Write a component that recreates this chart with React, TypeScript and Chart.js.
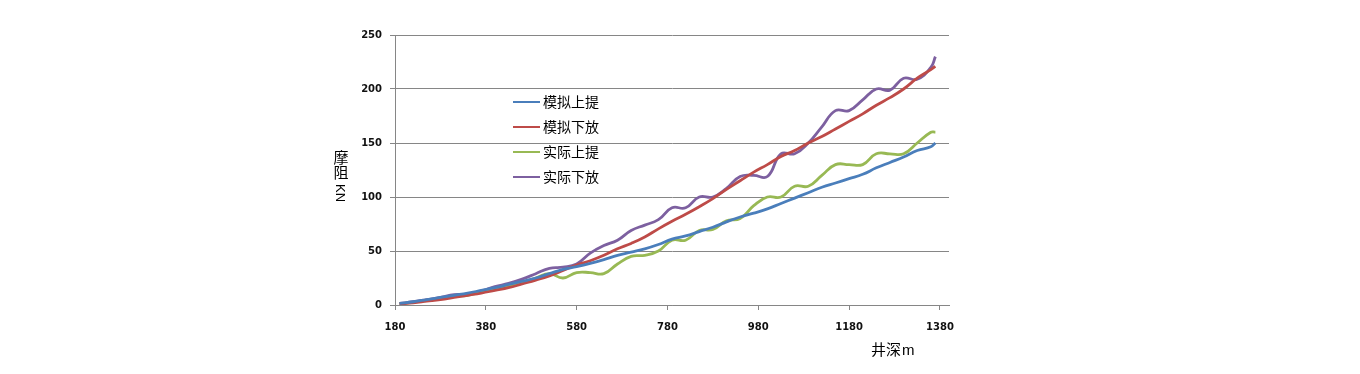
import React, { useEffect, useRef } from "react";
import { Chart, registerables } from "chart.js";

Chart.register(...registerables);

const depths = [190, 220, 250, 280, 310, 340, 370, 400, 430, 460, 490, 520, 550, 580, 610, 640, 670, 700, 730, 760, 790, 820, 850, 880, 910, 940, 970, 1000, 1030, 1060, 1090, 1120, 1150, 1180, 1210, 1240, 1270, 1300, 1330, 1360, 1370];

const simPullUp = [1.5, 3, 5, 7, 9, 11, 13.5, 16, 19, 22, 25, 29, 33, 35.5, 38.5, 42, 46, 49, 52, 56, 61, 64, 68, 72, 77, 81.5, 85, 89, 94, 99, 104, 109, 113, 117, 121, 127, 132, 137, 143, 146.5, 150];
const simRunIn = [1, 2, 3.5, 5, 7, 9, 11, 13.5, 16, 19.5, 23, 27, 32, 37, 41, 46, 52, 57, 63, 70.5, 77.5, 84, 91, 98.5, 107, 115, 123, 130, 137.5, 143, 150, 156, 163, 170, 177, 185, 192, 200, 210, 218, 221];
const actPullUp = [1, 2.5, 4, 6, 8, 9, 12, 15, 18, 21, 25, 29, 25, 30, 30, 29, 38, 45, 46, 50, 60, 60, 69, 70, 78, 80, 92, 100, 100, 110, 110, 120, 130, 130, 130, 140, 140, 140, 150, 160, 160];
const actRunIn = [1.5, 3, 5, 7, 9.5, 10, 13, 17, 20, 24, 29, 34, 35, 38, 48, 55, 60, 69, 74, 79, 90, 90, 100, 100, 108, 119, 120, 119, 140, 140, 150, 165, 180, 180, 190, 200, 199, 210, 209, 220, 230];

const seriesNames = ["模拟上提", "模拟下放", "实际上提", "实际下放"];
const seriesColors = ["#4A7EBB", "#BE4B48", "#98B954", "#7D60A0"];
const xTicks = [180, 380, 580, 780, 980, 1180, 1380];
const yTitleChars = ["摩", "阻"];
const yTitleUnit = "KN";
const xTitle = "井深";
const xTitleUnit = "m";

const CJK = '"Noto Sans CJK SC", "Noto Sans", sans-serif';
const LAT = '"Liberation Sans", Arial, sans-serif';
const TICK = '"DejaVu Sans", sans-serif';

const toPoints = (vals: number[]) => vals.map((v, i) => ({ x: depths[i], y: v }));

const decorPlugin = {
  id: "decor",
  afterDatasetsDraw(chart: any) {
    const ctx = chart.ctx;
    const area = chart.chartArea;
    ctx.save();
    // legend
    const lx = area.left + 118;
    const ly0 = 102;
    chart.data.datasets.forEach((ds: any, i: number) => {
      const y = ly0 + i * 25;
      ctx.strokeStyle = ds.borderColor;
      ctx.lineWidth = 2;
      ctx.beginPath();
      ctx.moveTo(lx, y);
      ctx.lineTo(lx + 27, y);
      ctx.stroke();
      ctx.fillStyle = "#000";
      ctx.font = `14px ${CJK}`;
      ctx.textAlign = "left";
      ctx.textBaseline = "middle";
      ctx.fillText(ds.label, lx + 30, y);
    });
    // y title
    ctx.fillStyle = "#000";
    ctx.font = `15px ${CJK}`;
    ctx.textAlign = "center";
    ctx.textBaseline = "middle";
    yTitleChars.forEach((c, i) => ctx.fillText(c, 341, 157 + i * 15));
    ctx.save();
    ctx.translate(340, 193);
    ctx.rotate(Math.PI / 2);
    ctx.font = `13px ${LAT}`;
    ctx.fillText(yTitleUnit, 0, 0);
    ctx.restore();
    // x title
    ctx.font = `15px ${CJK}`;
    ctx.textAlign = "left";
    ctx.fillText(xTitle, 871, 349);
    ctx.font = `15px ${LAT}`;
    ctx.fillText(xTitleUnit, 902, 351);
    ctx.restore();
  },
};

export default function App() {
  const ref = useRef<HTMLCanvasElement | null>(null);
  useEffect(() => {
    if (!ref.current) return;
    const allVals = [simPullUp, simRunIn, actPullUp, actRunIn];
    const chart = new Chart(ref.current, {
      type: "line",
      data: {
        datasets: allVals.map((vals, i) => ({
          label: seriesNames[i],
          data: toPoints(vals),
          borderColor: seriesColors[i],
          backgroundColor: seriesColors[i],
          borderWidth: 2.8,
          pointRadius: 0,
          tension: 0.45,
          fill: false,
        })),
      },
      options: {
        responsive: false,
        animation: false,
        events: [],
        layout: { padding: { left: 0, right: 411, top: 35, bottom: 0 } },
        plugins: { legend: { display: false }, tooltip: { enabled: false }, title: { display: false } },
        scales: {
          x: {
            type: "linear",
            min: 180,
            max: 1400,
            afterBuildTicks: (scale: any) => {
              scale.ticks = xTicks.map((v) => ({ value: v }));
            },
            afterFit: (scale: any) => {
              scale.height = 69;
            },
            grid: { drawOnChartArea: false, drawTicks: true, tickLength: 5, color: "#868686" },
            border: { color: "#868686", width: 1 },
            ticks: {
              autoSkip: false,
              maxRotation: 0,
              padding: 11,
              color: "#111",
              font: { family: TICK, size: 10, weight: "bold" },
              callback: (v: any) => String(v),
            },
          },
          y: {
            min: 0,
            max: 250,
            afterFit: (scale: any) => {
              scale.width = 395;
            },
            grid: { drawTicks: true, tickLength: 5, color: "#868686" },
            border: { color: "#868686", width: 1 },
            ticks: {
              stepSize: 50,
              padding: 8,
              color: "#111",
              font: { family: TICK, size: 10, weight: "bold" },
              callback: (v: any) => String(v),
            },
          },
        },
      },
      plugins: [decorPlugin],
    });
    return () => chart.destroy();
  }, []);
  return (
    <div style={{ position: "fixed", left: 0, top: 0, width: 1360, height: 374, background: "#fff" }}>
      <canvas ref={ref} width={1360} height={374} style={{ display: "block" }} />
    </div>
  );
}
